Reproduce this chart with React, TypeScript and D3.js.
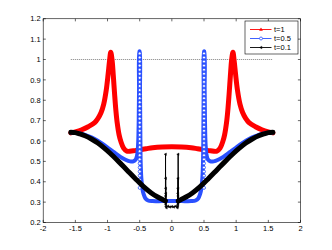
import React from "react";
import * as d3 from "d3";

type P = [number, number];

// t=1 (red)
const redPoints: P[] = [
  [-1.5708, 0.64], [-1.5, 0.645], [-1.4, 0.655], [-1.3, 0.67], [-1.2, 0.69], [-1.15, 0.71],
  [-1.1, 0.74], [-1.06, 0.78], [-1.02, 0.85], [-0.99, 0.93], [-0.97, 0.99], [-0.95, 1.035],
  [-0.93, 1.0], [-0.91, 0.92], [-0.89, 0.83], [-0.87, 0.75], [-0.85, 0.69], [-0.82, 0.63],
  [-0.79, 0.595], [-0.75, 0.565], [-0.7, 0.55], [-0.6, 0.552], [-0.5, 0.557], [-0.4, 0.562],
  [-0.3, 0.567], [-0.15, 0.571], [0, 0.572], [0.15, 0.571], [0.3, 0.567], [0.4, 0.562],
  [0.5, 0.557], [0.6, 0.552], [0.7, 0.55], [0.75, 0.565], [0.79, 0.595], [0.82, 0.63],
  [0.85, 0.69], [0.87, 0.75], [0.89, 0.83], [0.91, 0.92], [0.93, 1.0], [0.95, 1.035],
  [0.97, 0.99], [0.99, 0.93], [1.02, 0.85], [1.06, 0.78], [1.1, 0.74], [1.15, 0.71],
  [1.2, 0.69], [1.3, 0.67], [1.4, 0.655], [1.5, 0.645], [1.5708, 0.64],
];

// t=0.5 (blue)
const bluePoints: P[] = [
  [-1.5708, 0.642], [-1.5, 0.64], [-1.4, 0.635], [-1.3, 0.624], [-1.2, 0.61], [-1.1, 0.59],
  [-1.0, 0.568], [-0.9, 0.545], [-0.8, 0.522], [-0.72, 0.508], [-0.65, 0.5], [-0.6, 0.5],
  [-0.56, 0.51], [-0.54, 0.53], [-0.525, 0.58], [-0.515, 0.7], [-0.51, 0.85], [-0.505, 1.04],
  [-0.5, 1.04], [-0.495, 0.85], [-0.49, 0.65], [-0.485, 0.5], [-0.475, 0.42], [-0.46, 0.37],
  [-0.44, 0.34], [-0.41, 0.318], [-0.37, 0.308], [-0.3, 0.305], [-0.15, 0.305], [0, 0.305],
  [0.15, 0.305], [0.3, 0.305], [0.37, 0.308], [0.41, 0.318], [0.44, 0.34], [0.46, 0.37],
  [0.475, 0.42], [0.485, 0.5], [0.49, 0.65], [0.495, 0.85], [0.5, 1.04], [0.505, 1.04],
  [0.51, 0.85], [0.515, 0.7], [0.525, 0.58], [0.54, 0.53], [0.56, 0.51], [0.6, 0.5],
  [0.65, 0.5], [0.72, 0.508], [0.8, 0.522], [0.9, 0.545], [1.0, 0.568], [1.1, 0.59],
  [1.2, 0.61], [1.3, 0.624], [1.4, 0.635], [1.5, 0.64], [1.5708, 0.642],
];
// marker positions visible along the two blue spikes
const blueSpikeX: number[] = [-0.5, 0.5];
const blueSpikeY: number[] = [
  0.37, 0.39, 0.41, 0.43, 0.45, 0.47, 0.49, 0.51, 0.53, 0.55, 0.57, 0.59, 0.61, 0.63, 0.65, 0.67, 0.69,
  0.71, 0.73, 0.75, 0.77, 0.79, 0.81, 0.83, 0.85, 0.87, 0.89, 0.91, 0.93, 0.95, 0.97, 0.99, 1.01, 1.03,
];

// t=0.1 (black)
const blackLeft: P[] = [
  [-1.5708, 0.643], [-1.5, 0.641], [-1.43, 0.635], [-1.35, 0.626], [-1.25, 0.61], [-1.15, 0.59],
  [-1.05, 0.565], [-0.96, 0.54], [-0.83, 0.5], [-0.7, 0.458], [-0.57, 0.416], [-0.44, 0.376],
  [-0.32, 0.345], [-0.22, 0.325], [-0.14, 0.312], [-0.1, 0.306],
];
const blackCenter: P[] = [
  [-0.1, 0.306], [-0.098, 0.535], [-0.097, 0.33], [-0.0965, 0.417], [-0.096, 0.3], [-0.0955, 0.368],
  [-0.095, 0.29], [-0.094, 0.343], [-0.092, 0.28], [-0.085, 0.272], [-0.06, 0.28], [-0.03, 0.276],
  [0, 0.278], [0.03, 0.276], [0.06, 0.28], [0.085, 0.272], [0.092, 0.28], [0.094, 0.343],
  [0.095, 0.29], [0.0955, 0.368], [0.096, 0.3], [0.0965, 0.417], [0.097, 0.33], [0.098, 0.535],
  [0.1, 0.306],
];
const blackRight: P[] = [
  [0.1, 0.306], [0.14, 0.312], [0.22, 0.325], [0.32, 0.345], [0.44, 0.376], [0.57, 0.416],
  [0.7, 0.458], [0.83, 0.5], [0.96, 0.54], [1.05, 0.565], [1.15, 0.59], [1.25, 0.61],
  [1.35, 0.626], [1.43, 0.635], [1.5, 0.641], [1.5708, 0.643],
];

const refLine: P[] = [[-1.5708, 1], [1.5708, 1]];

const xTicks = [-2, -1.5, -1, -0.5, 0, 0.5, 1, 1.5, 2];
const xTickLabels = ["-2", "-1.5", "-1", "-0.5", "0", "0.5", "1", "1.5", "2"];
const yTicks = [0.2, 0.3, 0.4, 0.5, 0.6, 0.7, 0.8, 0.9, 1, 1.1, 1.2];
const yTickLabels = ["0.2", "0.3", "0.4", "0.5", "0.6", "0.7", "0.8", "0.9", "1", "1.1", "1.2"];
const legendLabels = ["t=1", "t=0.5", "t=0.1"];

const RED = "#ff0000";
const BLUE = "#2a50ff";
const BLACK = "#000000";
const FONT = "'Liberation Sans', Arial, Helvetica, sans-serif";

export default function App() {
  const W = 332, H = 250;
  const L = 43.2, R = 300.5, T = 18.75, B = 222.5;
  const x = d3.scaleLinear().domain([-2, 2]).range([L, R]);
  const y = d3.scaleLinear().domain([0.2, 1.2]).range([B, T]);
  const smooth = d3.line<P>().x(d => x(d[0])).y(d => y(d[1])).curve(d3.curveCatmullRom.alpha(0.5));
  const lin = d3.line<P>().x(d => x(d[0])).y(d => y(d[1]));
  const tl = 2.6;

  const tri = (cx: number, cy: number, s: number) =>
    `M${cx},${cy - s}L${cx + s * 0.9},${cy + s * 0.6}L${cx - s * 0.9},${cy + s * 0.6}Z`;
  const ltri = (cx: number, cy: number, s: number) =>
    `M${cx - s},${cy}L${cx + s * 0.6},${cy - s * 0.9}L${cx + s * 0.6},${cy + s * 0.9}Z`;

  const legRows = [29.5, 38.5, 47.5];
  const legColors = [RED, BLUE, BLACK];

  return (
    <svg width={W} height={H} style={{ position: "absolute", left: 0, top: 0, background: "#fff" }}>
      <rect x={0} y={0} width={W} height={H} fill="#fff" />
      <rect x={L} y={T} width={R - L} height={B - T} fill="#fff" />

      {/* reference line y=1 */}
      <path d={lin(refLine) || ""} stroke="#000" strokeWidth={0.5} strokeDasharray="1,1" fill="none" />

      {/* t=1 */}
      <path d={smooth(redPoints) || ""} stroke={RED} strokeWidth={5} fill="none" strokeLinejoin="round" strokeLinecap="round" />

      {/* t=0.5 */}
      <path d={smooth(bluePoints) || ""} stroke={BLUE} strokeWidth={4} fill="none" strokeLinejoin="round" strokeLinecap="round" />
      {blueSpikeX.map((sx, i) =>
        blueSpikeY.map((sy, j) => (
          <circle key={`bs${i}-${j}`} cx={x(sx)} cy={y(sy)} r={1.5} fill="#fff" stroke={BLUE} strokeWidth={0.8} />
        ))
      )}

      {/* t=0.1 */}
      <path d={smooth(blackLeft) || ""} stroke={BLACK} strokeWidth={5} fill="none" strokeLinejoin="round" strokeLinecap="round" />
      <path d={smooth(blackRight) || ""} stroke={BLACK} strokeWidth={5} fill="none" strokeLinejoin="round" strokeLinecap="round" />
      <path d={lin(blackCenter) || ""} stroke={BLACK} strokeWidth={1} fill="none" />
      {blackCenter.map((p, i) => (
        <path key={`bc${i}`} d={ltri(x(p[0]), y(p[1]), 1.4)} fill={BLACK} stroke={BLACK} strokeWidth={0.4} />
      ))}

      {/* axes box */}
      <rect x={L} y={T} width={R - L} height={B - T} fill="none" stroke="#000" strokeWidth={0.6} />
      {xTicks.map((t, i) => (
        <g key={`xt${i}`}>
          <line x1={x(t)} x2={x(t)} y1={B} y2={B - tl} stroke="#000" strokeWidth={0.6} />
          <line x1={x(t)} x2={x(t)} y1={T} y2={T + tl} stroke="#000" strokeWidth={0.6} />
          <text x={x(t)} y={231.3} textAnchor="middle" fontSize={7.5} fontFamily={FONT} fill="#000">
            {xTickLabels[i]}
          </text>
        </g>
      ))}
      {yTicks.map((t, i) => (
        <g key={`yt${i}`}>
          <line x1={L} x2={L + tl} y1={y(t)} y2={y(t)} stroke="#000" strokeWidth={0.6} />
          <line x1={R} x2={R - tl} y1={y(t)} y2={y(t)} stroke="#000" strokeWidth={0.6} />
          <text x={40.6} y={y(t) + 2.7} textAnchor="end" fontSize={7.5} fontFamily={FONT} fill="#000">
            {yTickLabels[i]}
          </text>
        </g>
      ))}

      {/* legend */}
      <rect x={245} y={21} width={53} height={33} fill="#fff" stroke="#000" strokeWidth={0.6} />
      {legendLabels.map((lab, i) => (
        <g key={`lg${i}`}>
          <line x1={250} x2={271.5} y1={legRows[i]} y2={legRows[i]} stroke={legColors[i]} strokeWidth={0.9} />
          {i === 0 && <path d={tri(261, legRows[i], 1.6)} fill={RED} stroke={RED} strokeWidth={0.5} />}
          {i === 1 && <circle cx={261} cy={legRows[i]} r={1.5} fill="#fff" stroke={BLUE} strokeWidth={0.8} />}
          {i === 2 && <path d={ltri(261, legRows[i], 1.5)} fill={BLACK} stroke={BLACK} strokeWidth={0.4} />}
          <text x={274} y={legRows[i] + 2.7} fontSize={7.5} fontFamily={FONT} fill="#000">
            {lab}
          </text>
        </g>
      ))}
    </svg>
  );
}
